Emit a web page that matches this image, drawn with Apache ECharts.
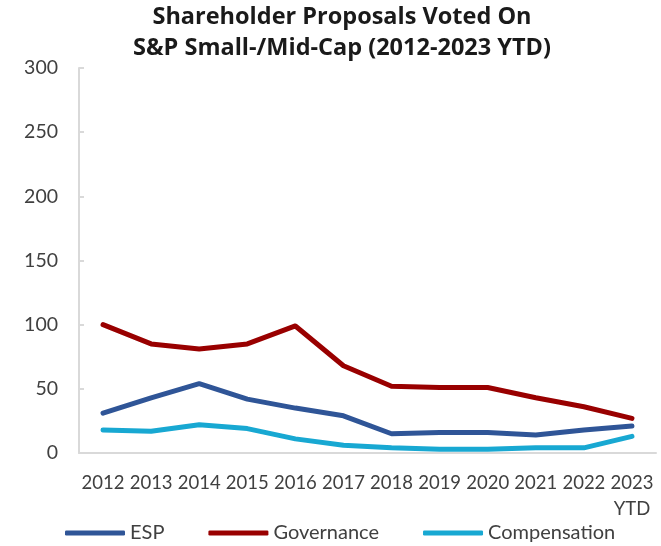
<!DOCTYPE html>
<html><head><meta charset="utf-8">
<script src="https://cdn.jsdelivr.net/npm/echarts@6/dist/echarts.min.js"></script>
<style>html,body{margin:0;padding:0;background:#fff}#c{width:661px;height:546px}</style>
</head><body><div id="c"></div>
<script>
const categories = ['2012','2013','2014','2015','2016','2017','2018','2019','2020','2021','2022','2023\nYTD'];
const esp = [31, 43, 54, 42, 35, 29, 15, 16, 16, 14, 18, 21];
const governance = [100, 85, 81, 85, 99, 68, 52, 51, 51, 43, 36, 27];
const compensation = [18, 17, 22, 19, 11, 6, 4, 3, 3, 4, 4, 13];
const yTicks = [0, 50, 100, 150, 200, 250, 300];

const chart = echarts.init(document.getElementById('c'), null, {renderer:'canvas'});
const font = 'Lato, "Open Sans", sans-serif';
function line(name, data, color){
  return {name, type:'line', data, symbol:'none', smooth:false,
    lineStyle:{color, width:5, cap:'round', join:'round'}, itemStyle:{color}};
}
chart.setOption({
  animation:false,
  title:{text:'Shareholder Proposals Voted On\nS&P Small-/Mid-Cap (2012-2023 YTD)', left:342, textAlign:'center', top:2, padding:0,
    textStyle:{fontFamily:'"Open Sans", sans-serif', fontWeight:'bold', fontSize:23.5, color:'#1a1a1a', lineHeight:31}},
  grid:{left:79, right:5, top:68, bottom:93, containLabel:false},
  legend:{top:523, left:65, padding:0, itemWidth:60, itemHeight:5, icon:'roundRect', itemGap:44,
    textStyle:{fontFamily:font, fontSize:20, color:'#404040'},
    data:['ESP','Governance','Compensation']},
  xAxis:{type:'category', data:categories, boundaryGap:true,
    axisLine:{lineStyle:{color:'#d9d9d9', width:2}}, axisTick:{show:false},
    axisLabel:{fontFamily:font, fontSize:18.5, color:'#404040', margin:17, lineHeight:26, interval:0}},
  yAxis:{type:'value', min:yTicks[0], max:yTicks[yTicks.length-1], interval:50,
    axisLine:{show:true, lineStyle:{color:'#d9d9d9', width:2}},
    axisTick:{show:true, inside:true, length:5, lineStyle:{color:'#d9d9d9', width:2}},
    splitLine:{show:false},
    axisLabel:{fontFamily:font, fontSize:19.5, color:'#404040', margin:21}},
  series:[line('ESP', esp, '#2f5597'), line('Governance', governance, '#990000'), line('Compensation', compensation, '#18a8d2')]
});
</script></body></html>
